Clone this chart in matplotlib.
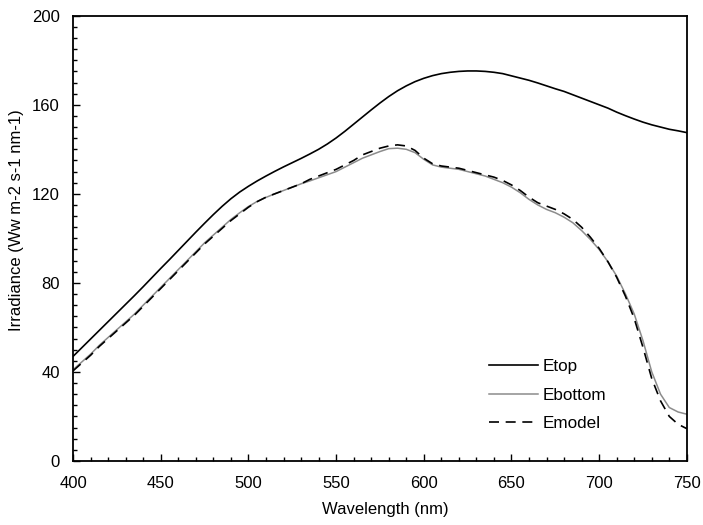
import numpy as np
import matplotlib
matplotlib.use('Agg')
import matplotlib.pyplot as plt
from matplotlib.ticker import MultipleLocator

plt.rcParams['font.family'] = ['Liberation Sans', 'DejaVu Sans']

# wavelength grid (nm), 5 nm steps
wavelength = list(range(400, 755, 5))

etop = [47, 50.9, 54.8, 58.7, 62.6, 66.5, 70.4, 74.3, 78.3, 82.4,
        86.5, 90.5, 94.6, 98.7, 102.8, 106.8, 110.7, 114.4, 117.8, 120.8,
        123.4, 125.8, 128, 130.1, 132.1, 134, 135.9, 137.9, 140, 142.4,
        145.1, 148.1, 151.3, 154.5, 157.7, 160.8, 163.7, 166.3, 168.5, 170.4,
        171.9, 173.1, 174, 174.6, 175, 175.2, 175.2, 175, 174.6, 174,
        173, 172, 171, 169.8, 168.5, 167.2, 166, 164.5, 163, 161.5,
        160, 158.5, 156.7, 155.1, 153.6, 152.2, 151, 150, 149, 148.3,
        147.5]

ebottom = [41, 44.5, 48, 52, 55.5, 59, 62.5, 66, 70, 74,
           78, 82, 86, 90, 94, 98, 101.5, 105, 108.5, 111.5,
           114.3, 116.6, 118.4, 120, 121.5, 123, 124.5, 125.8, 127.2, 128.6,
           130, 132, 134, 136, 137.5, 139, 140.3, 140.5, 140, 138.5,
           135.5, 133, 132, 131.5, 131, 130, 129, 128, 126.5, 125,
           123, 120.5, 117.5, 115, 113, 111.5, 109.5, 107, 103.5, 99.5,
           95, 89.5, 83, 75, 66, 54, 40, 30, 24, 22,
           21]

emodel = [40.5, 44, 47.5, 51.5, 55, 58.5, 62, 65.5, 69.5, 73.5,
          77.5, 81.5, 85.5, 89.5, 93.5, 97.5, 101, 104.5, 108, 111,
          114, 116.5, 118.5, 120, 121.5, 123, 124.5, 126.5, 128, 129.5,
          131, 133, 135, 137.5, 139, 140.5, 141.5, 142, 141.5, 139.5,
          136, 133.5, 132.5, 132, 131.5, 130.5, 129.5, 128.5, 127.5, 126,
          124, 121.5, 118.5, 116, 114.5, 113, 111, 108.5, 105, 100.5,
          95.5, 89.5, 82.5, 74, 64, 51, 37, 27, 20, 16.5,
          14.5]

fig = plt.figure(figsize=(7.03, 5.25), dpi=100)
ax = fig.add_axes([0.104, 0.122, 0.873, 0.848])

ax.plot(wavelength, etop, color='black', lw=1.2, label='Etop')
ax.plot(wavelength, ebottom, color='#8c8c8c', lw=1.1, label='Ebottom')
ax.plot(wavelength, emodel, color='black', lw=1.2, ls=(0, (6, 4)), label='Emodel')

ax.set_xlim(400, 750)
ax.set_ylim(0, 200)
ax.xaxis.set_major_locator(MultipleLocator(50))
ax.xaxis.set_minor_locator(MultipleLocator(10))
ax.yaxis.set_major_locator(MultipleLocator(40))
ax.yaxis.set_minor_locator(MultipleLocator(5))
ax.tick_params(which='both', direction='in', top=False, right=False, labelsize=12, width=1)
ax.tick_params(which='major', length=5)
ax.tick_params(which='minor', length=3)
ax.tick_params(axis='x', which='major', pad=11)
ax.tick_params(axis='y', which='major', pad=9.5)
for s in ax.spines.values():
    s.set_linewidth(1.3)

ax.set_xlabel('Wavelength (nm)', fontsize=12)
ax.set_ylabel('Irradiance (Ww m-2 s-1 nm-1)', fontsize=12)
ax.xaxis.set_label_coords(0.508, -0.092)
ax.yaxis.set_label_coords(-0.08, 0.542)

ax.legend(loc='upper left', bbox_to_anchor=(0.6775, 0.229), frameon=False, fontsize=12.3,
          handlelength=2.9, labelspacing=0.8, handletextpad=0.25,
          borderpad=0, borderaxespad=0)

fig.savefig('out.png', dpi=100)
